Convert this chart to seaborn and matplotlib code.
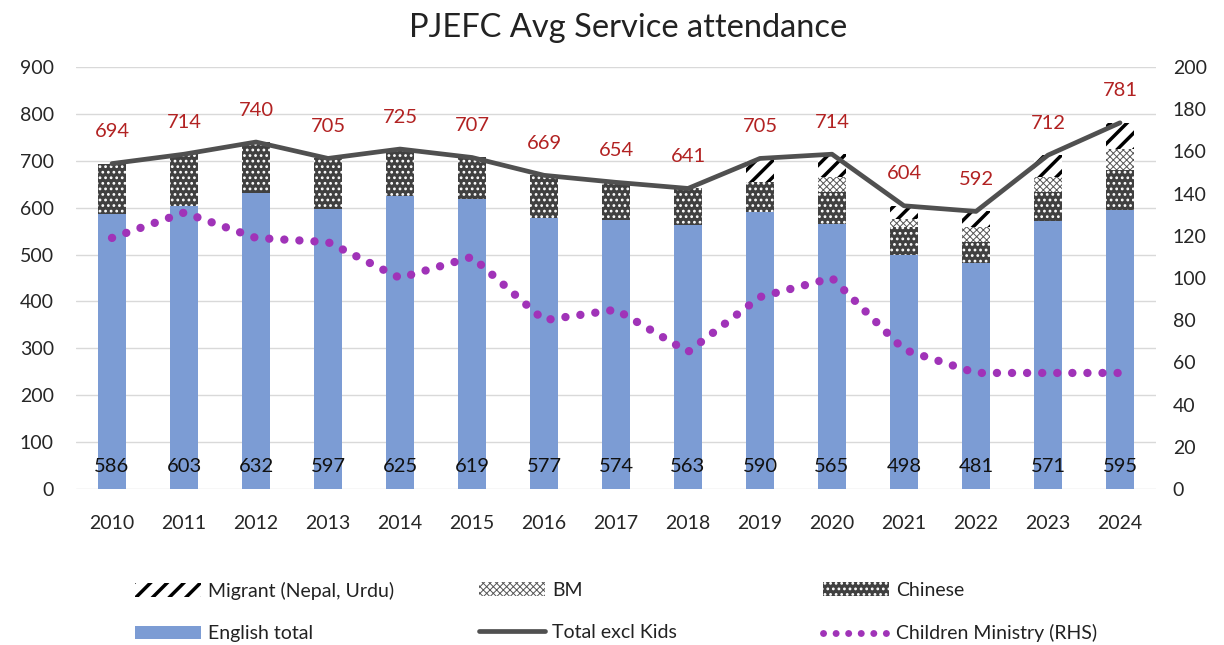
import numpy as np
import matplotlib
matplotlib.use('Agg')
import matplotlib.pyplot as plt
import matplotlib.patches as mpatches
from matplotlib.lines import Line2D
import seaborn as sns

# data
years = ['2010', '2011', '2012', '2013', '2014', '2015', '2016', '2017',
         '2018', '2019', '2020', '2021', '2022', '2023', '2024']
english = [586, 603, 632, 597, 625, 619, 577, 574, 563, 590, 565, 498, 481, 571, 595]
chinese = [108, 111, 108, 108, 100, 88, 92, 80, 78, 65, 69, 60, 46, 63, 85]
bm = [0, 0, 0, 0, 0, 0, 0, 0, 0, 0, 32, 18, 32, 32, 46]
migrant = [0, 0, 0, 0, 0, 0, 0, 0, 0, 50, 48, 28, 33, 46, 55]
total = [694, 714, 740, 705, 725, 707, 669, 654, 641, 705, 714, 604, 592, 712, 781]
kids = [119, 131, 119, 117, 100, 110, 80, 85, 65, 91, 100, 66, 55, 55, 55]

sns.set_theme(style='white')
plt.rcParams['font.family'] = ['Lato', 'DejaVu Sans']

BLUE = '#7C9CD4'
DARK = '#404040'
LINE = '#505050'
PURPLE = '#A033B8'
RED = '#B22222'
W = 0.40
DOTS = (0, (0.01, 1.8))

# cumulative tops for stacking (drawn top-down so each layer covers the one above)
c1 = np.array(english)
c2 = c1 + np.array(chinese)
c3 = c2 + np.array(bm)
c4 = c3 + np.array(migrant)

fig = plt.figure(figsize=(12.24, 6.45), dpi=100)
ax = fig.add_axes([76 / 1224, 1 - 489 / 645, 1080 / 1224, 422 / 645])

with plt.rc_context({'hatch.linewidth': 2.5}):
    sns.barplot(x=years, y=c4, color='white', edgecolor='black', hatch='//',
                linewidth=0, width=W, saturation=1, ax=ax)
with plt.rc_context({'hatch.linewidth': 0.7}):
    sns.barplot(x=years, y=c3, color='white', edgecolor='#555555', hatch='xxxxx',
                linewidth=0, width=W, saturation=1, ax=ax)
with plt.rc_context({'hatch.linewidth': 1.2}):
    sns.barplot(x=years, y=c2, color=DARK, edgecolor='white', hatch='...',
                linewidth=0, width=W, saturation=1, ax=ax)
sns.barplot(x=years, y=c1, color=BLUE, linewidth=0, width=W, saturation=1, ax=ax)

pos = np.arange(len(years))
ax.plot(pos, total, color=LINE, lw=3.4, zorder=5, solid_capstyle='round')

# labels
for i, (e, t) in enumerate(zip(english, total)):
    ax.text(i, 49, str(e), ha='center', va='center', fontsize=14.5, color='#111111', zorder=6)
    ax.text(i, t + 68, str(t), ha='center', va='center', fontsize=14.5, color=RED, zorder=6)

ax.set_ylim(0, 900)
ax.set_yticks(range(0, 901, 100))
ax.set_xlim(-0.5, len(years) - 0.5)
ax.set_xlabel('')
ax.set_ylabel('')
ax.yaxis.grid(True, color='#D9D9D9', lw=1)
ax.set_axisbelow(True)
for s in ax.spines.values():
    s.set_visible(False)
ax.tick_params(axis='y', length=0, labelsize=14, pad=16, labelcolor='#262626')
ax.tick_params(axis='x', length=0, labelsize=14, pad=19, labelcolor='#262626')

ax2 = ax.twinx()
ax2.plot(pos, kids, color=PURPLE, lw=6, linestyle=DOTS,
         dash_capstyle='round', zorder=6)
ax2.set_ylim(0, 200)
ax2.set_yticks(range(0, 201, 20))
ax2.grid(False)
for s in ax2.spines.values():
    s.set_visible(False)
ax2.tick_params(axis='y', length=0, labelsize=14, pad=12, labelcolor='#262626')

fig.text(628 / 1224, 1 - 28 / 645, 'PJEFC Avg Service attendance', ha='center',
         va='center', fontsize=23.5, color='#222222')

# legend in three columns, each with the hatch width of its patch
h_mig = mpatches.Patch(facecolor='white', edgecolor='black', hatch='//', lw=0)
h_bm = mpatches.Patch(facecolor='white', edgecolor='#555555', hatch='xxxxx', lw=0)
h_chn = mpatches.Patch(facecolor=DARK, edgecolor='white', hatch='...', lw=0)
h_eng = mpatches.Patch(facecolor=BLUE, lw=0)
h_tot = Line2D([], [], color=LINE, lw=3.4)
h_kid = Line2D([], [], color=PURPLE, lw=5, linestyle=DOTS, dash_capstyle='round')

cols = [([h_mig, h_eng], ['Migrant (Nepal, Urdu)', 'English total'], 135, 2.5),
        ([h_bm, h_tot], ['BM', 'Total excl Kids'], 479, 0.7),
        ([h_chn, h_kid], ['Chinese', 'Children Ministry (RHS)'], 823, 1.2)]
for hs, ls, x0, hlw in cols:
    with plt.rc_context({'hatch.linewidth': hlw}):
        fig.legend(hs, ls, loc='upper left', bbox_to_anchor=(x0 / 1224, 1 - 582 / 645),
                   frameon=False, fontsize=14, handlelength=3.4, handleheight=0.7,
                   handletextpad=0.35, labelspacing=1.3, borderpad=0, borderaxespad=0,
                   labelcolor='#222222')

plt.savefig('out.png', dpi=100)
plt.close()
